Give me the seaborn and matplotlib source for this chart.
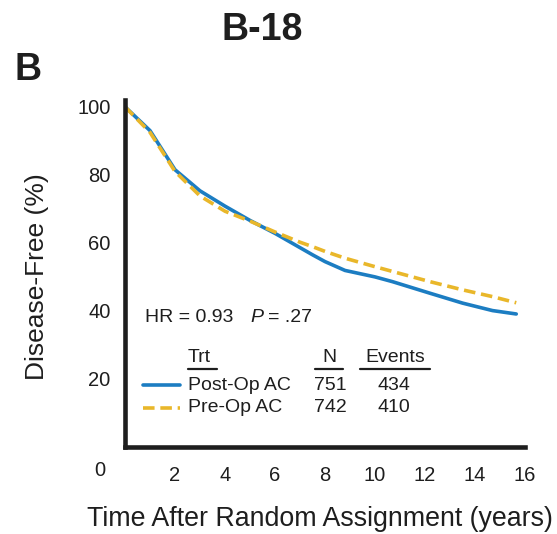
import matplotlib
matplotlib.use("Agg")
import matplotlib.pyplot as plt
from matplotlib import font_manager
import seaborn as sns
import pandas as pd

# ---- data ----
post_time = [0, 1.0, 2.0, 3.0, 4.0, 5.0, 6.0, 7.0, 7.5, 8.0, 8.8, 10.0, 10.7, 12.2, 13.5, 14.7, 15.65]
post_dfs = [100, 93, 81.5, 75.3, 70.8, 66.6, 62.8, 58.6, 56.5, 54.5, 51.9, 50.0, 48.6, 45.2, 42.3, 40.1, 39.1]
pre_time = [0, 1.0, 2.0, 3.0, 4.0, 5.0, 6.0, 7.0, 7.5, 8.0, 8.8, 10.0, 10.7, 12.2, 13.5, 14.7, 15.65]
pre_dfs = [100, 92.5, 81.0, 73.8, 69.3, 66.4, 63.2, 60.2, 58.9, 57.5, 55.5, 53.0, 51.6, 48.6, 46.2, 44.2, 42.4]
arms = ["Post-Op AC", "Pre-Op AC"]
arm_n = [751, 742]
arm_events = [434, 410]
x_ticks = [2, 4, 6, 8, 10, 12, 14, 16]
y_ticks = [20, 40, 60, 80, 100]
hr_text = "HR = 0.93"
p_text = ".27"

blue = "#1c7dc2"
gold = "#e9b72a"
ink = "#1e1e1e"

names = {f.name for f in font_manager.fontManager.ttflist}
main_font = "Liberation Sans Narrow" if "Liberation Sans Narrow" in names else "Liberation Sans"

sns.set_theme(style="white")
plt.rcParams["font.family"] = [main_font, "DejaVu Sans"]

df = pd.concat([
    pd.DataFrame({"time": post_time, "dfs": post_dfs, "arm": arms[0]}),
    pd.DataFrame({"time": pre_time, "dfs": pre_dfs, "arm": arms[1]}),
])

fig = plt.figure(figsize=(5.57, 5.34), dpi=100)
ax = fig.add_axes([125 / 557, (534 - 447) / 534, 400 / 557, (447 - 100) / 534])

sns.lineplot(data=df, x="time", y="dfs", hue="arm", style="arm",
             palette={arms[0]: blue, arms[1]: gold},
             dashes={arms[0]: "", arms[1]: (3.2, 1.6)},
             linewidth=2.6, ax=ax, legend=False, estimator=None, sort=False)

ax.set_xlim(0, 16)
ax.set_ylim(0, 102)
ax.set_xticks(x_ticks)
ax.set_yticks(y_ticks)
ax.tick_params(axis="both", direction="out", length=6.5, width=1.8, color=ink,
               labelsize=14.5, labelcolor=ink, pad=4)
ax.tick_params(axis="x", pad=7)
for s in ["top", "right"]:
    ax.spines[s].set_visible(False)
for s in ["left", "bottom"]:
    ax.spines[s].set_linewidth(3.3)
    ax.spines[s].set_color(ink)
ax.set_xlabel("")
ax.set_ylabel("")


def fx(px):
    return px / 557


def fy(py):
    return 1 - py / 534


# origin label
fig.text(fx(100), fy(471), "0", ha="center", va="center", fontsize=14.5, color=ink)
# axis labels
fig.text(fx(320), fy(519), "Time After Random Assignment (years)", ha="center", va="center",
         fontsize=19.3, color=ink)
fig.text(fx(37), fy(277), "Disease-Free (%)", ha="center", va="center", rotation=90,
         fontsize=19, color=ink)
# titles
fig.text(fx(262), fy(30), "B-18", ha="center", va="center", fontsize=27,
         fontweight="bold", color=ink)
fig.text(fx(28), fy(70), "B", ha="center", va="center", fontsize=27,
         fontweight="bold", color=ink)

# HR / P text
fs = 14
fig.text(fx(145), fy(317), hr_text, ha="left", va="center", fontsize=fs, color=ink)
fig.text(fx(250), fy(317), "P", ha="left", va="center", fontsize=fs, style="italic", color=ink)
fig.text(fx(268), fy(317), "= " + p_text, ha="left", va="center", fontsize=fs, color=ink)

# legend table
hdr_y = 358
fig.text(fx(188), fy(hdr_y), "Trt", ha="left", va="center", fontsize=fs, color=ink)
fig.text(fx(329), fy(hdr_y), "N", ha="center", va="center", fontsize=fs, color=ink)
fig.text(fx(395), fy(hdr_y), "Events", ha="center", va="center", fontsize=fs, color=ink)
for x0, x1 in [(188, 217), (315, 343), (360, 430)]:
    fig.add_artist(plt.Line2D([fx(x0), fx(x1)], [fy(369), fy(369)], color=ink, lw=1.6))

row_y = [385, 408]
colors = [blue, gold]
styles = ["-", (0, (3.2, 1.6))]
for i in range(2):
    y = row_y[i]
    fig.add_artist(plt.Line2D([fx(143), fx(180)], [fy(y), fy(y)], color=colors[i], lw=2.6,
                              linestyle=styles[i]))
    fig.text(fx(188), fy(y), arms[i], ha="left", va="center", fontsize=fs, color=ink)
    fig.text(fx(330), fy(y), str(arm_n[i]), ha="center", va="center", fontsize=fs, color=ink)
    fig.text(fx(394), fy(y), str(arm_events[i]), ha="center", va="center", fontsize=fs, color=ink)

fig.savefig("out.png", dpi=100)
